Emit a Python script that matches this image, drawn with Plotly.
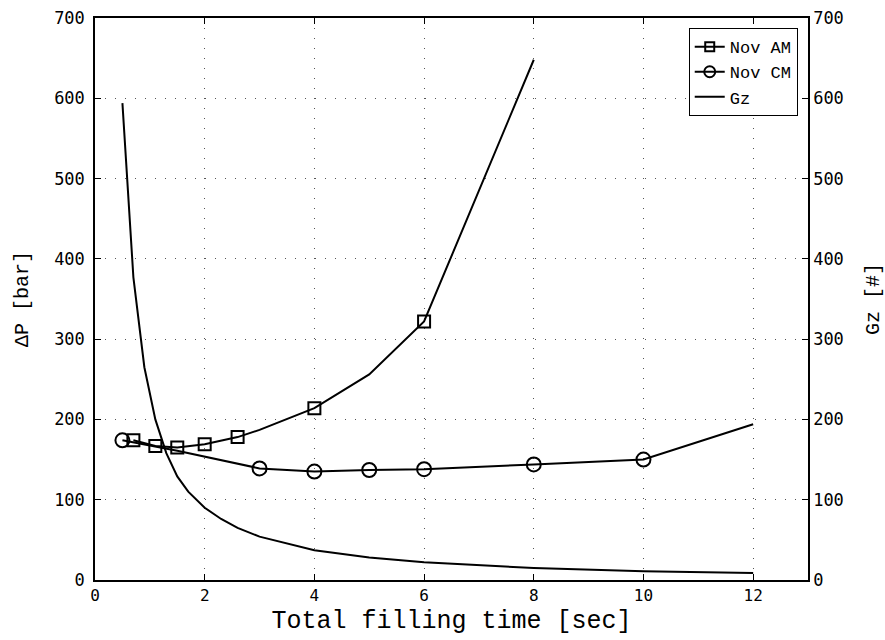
import plotly.graph_objects as go

# Nov AM (squares)
am_x = [0.7, 1.1, 1.5, 2.0, 2.6, 3.0, 4.0, 5.0, 6.0, 8.0]
am_y = [174, 167, 165, 169, 178, 187, 214, 256, 322, 648]
am_mark_x = [0.7, 1.1, 1.5, 2.0, 2.6, 4.0, 6.0]
am_mark_y = [174, 167, 165, 169, 178, 214, 322]

# Nov CM (circles)
cm_x = [0.5, 1.5, 3.0, 4.0, 5.0, 6.0, 8.0, 10.0, 12.0]
cm_y = [174, 161, 139, 135, 137, 138, 144, 150, 194]
cm_mark_x = [0.5, 3.0, 4.0, 5.0, 6.0, 8.0, 10.0]
cm_mark_y = [174, 139, 135, 137, 138, 144, 150]

# Gz (right axis)
gz_x = [0.5, 0.7, 0.9, 1.1, 1.3, 1.5, 1.7, 2.0, 2.3, 2.6, 3.0, 4.0, 5.0, 6.0, 8.0, 10.0, 12.0]
gz_y = [594, 377, 265, 200, 158, 129, 110, 90, 76, 65, 54, 37, 28, 22, 15, 11, 8.7]

x_ticks = [0, 2, 4, 6, 8, 10, 12]
y_ticks = [0, 100, 200, 300, 400, 500, 600, 700]

MONO = "Liberation Mono"
black = "black"

fig = go.Figure()
fig.add_trace(go.Scatter(x=am_x, y=am_y, mode="lines", line=dict(color=black, width=2),
                         showlegend=False, hoverinfo="skip"))
fig.add_trace(go.Scatter(x=am_mark_x, y=am_mark_y, mode="markers",
                         marker=dict(symbol="square-open", size=12, color=black, line=dict(width=2)),
                         showlegend=False))
fig.add_trace(go.Scatter(x=cm_x, y=cm_y, mode="lines", line=dict(color=black, width=2),
                         showlegend=False, hoverinfo="skip"))
fig.add_trace(go.Scatter(x=cm_mark_x, y=cm_mark_y, mode="markers",
                         marker=dict(symbol="circle-open", size=14, color=black, line=dict(width=2)),
                         showlegend=False))
fig.add_trace(go.Scatter(x=gz_x, y=gz_y, mode="lines", line=dict(color=black, width=2),
                         showlegend=False, yaxis="y2"))
# legend entries
fig.add_trace(go.Scatter(x=[None], y=[None], mode="lines+markers", name="Nov AM",
                         line=dict(color=black, width=2),
                         marker=dict(symbol="square-open", size=9, color=black, line=dict(width=2))))
fig.add_trace(go.Scatter(x=[None], y=[None], mode="lines+markers", name="Nov CM",
                         line=dict(color=black, width=2),
                         marker=dict(symbol="circle-open", size=11, color=black, line=dict(width=2))))
fig.add_trace(go.Scatter(x=[None], y=[None], mode="lines", name="Gz",
                         line=dict(color=black, width=2)))

grid = dict(showgrid=True, gridcolor="#555555", gridwidth=1, griddash="1px,9px")

fig.update_layout(
    width=885, height=640,
    margin=dict(l=95, r=77, t=18, b=60),
    paper_bgcolor="white", plot_bgcolor="white",
    font=dict(family=MONO, color=black, size=18),
    xaxis=dict(range=[0, 13], tickvals=x_ticks, ticks="inside", ticklen=6, tickcolor=black,
               showline=True, linecolor=black, linewidth=1.5, mirror="ticks", zeroline=False,
               automargin=False,
               tickfont=dict(family="DejaVu Sans Mono", size=16),
               title=dict(text="Total filling time [sec]", font=dict(family=MONO, size=25), standoff=7),
               **grid),
    yaxis=dict(range=[0, 700], tickvals=y_ticks, ticks="inside", ticklen=6, tickcolor=black,
               showline=True, linecolor=black, linewidth=1.5, mirror=True, zeroline=False,
               automargin=False,
               tickfont=dict(family="DejaVu Sans Mono", size=17), ticklabelstandoff=5,
               title=dict(text="ΔP [bar]", font=dict(family=MONO, size=20), standoff=20),
               **grid),
    yaxis2=dict(range=[0, 700], tickvals=y_ticks, ticks="inside", ticklen=6, tickcolor=black,
                overlaying="y", side="right", showline=True, linecolor=black, linewidth=1.5,
                showgrid=False, zeroline=False, automargin=False,
                tickfont=dict(family="DejaVu Sans Mono", size=17),
                title=dict(text="Gz [#]", font=dict(family=MONO, size=20), standoff=23)),
    legend=dict(x=0.9856, y=0.982, xanchor="right", yanchor="top",
                bgcolor="white", bordercolor=black, borderwidth=1,
                font=dict(family=MONO, size=17), tracegroupgap=0, itemwidth=30),
    showlegend=True,
)

fig.write_html("out.html")
